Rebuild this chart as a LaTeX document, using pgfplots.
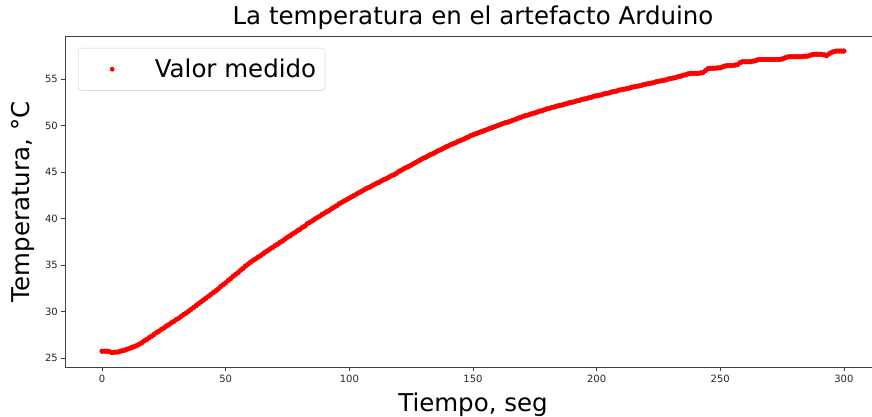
\documentclass[border=0pt]{standalone}
\usepackage{pgfplots}
\pgfplotsset{compat=1.18}
\usepackage{fontspec}
\setmainfont{DejaVu Sans}

\definecolor{spine}{gray}{0.25}
\definecolor{ticktext}{gray}{0.15}
\definecolor{legframe}{gray}{0.8}

\begin{document}
\begin{tikzpicture}
\begin{axis}[
  name=ax,
  scale only axis,
  width=816pt, height=331.7pt,
  xmin=-15, xmax=315,
  ymin=23.98, ymax=59.62,
  xtick={0,50,...,300},
  ytick={25,30,...,55},
  axis line style={spine, line width=0.8pt},
  tick align=outside,
  tick pos=left,
  major tick length=3.5pt,
  every tick/.style={spine, line width=0.8pt},
  /pgf/number format/assume math mode=true,
  tick label style={font=\fontsize{10}{12}\selectfont, text=ticktext},
  xticklabel style={inner sep=0pt, yshift=-3.5pt},
  yticklabel style={inner sep=0pt, xshift=-3.5pt},
  title={La temperatura en el artefacto Arduino},
  title style={font=\fontsize{24.5}{29}\selectfont, at={(axis description cs:0.5,1)}, anchor=base, yshift=5pt, inner sep=0pt},
  xlabel={Tiempo, seg},
  xlabel style={font=\fontsize{24.5}{29}\selectfont, at={(axis description cs:0.5,-0.133)}, anchor=base, inner sep=0pt},
  ylabel={Temperatura, °C},
  ylabel style={font=\fontsize{24.5}{29}\selectfont, at={(axis description cs:-0.043,0.5)}, anchor=base, inner sep=0pt},
  legend style={
    at={(axis description cs:0,1)}, anchor=north west,
    xshift=13pt, yshift=-12pt,
    draw=legframe, fill=white, fill opacity=0.8, text opacity=1,
    rounded corners=3pt,
    font=\fontsize{24.5}{29}\selectfont,
    inner xsep=9pt, inner ysep=11pt,
    nodes={inner sep=0pt},
  },
  legend cell align=left,
  legend image code/.code={
    \path[draw=none, fill=none] (0pt,-1pt) rectangle (67.6pt,1pt);
    \fill[red, draw=none, fill opacity=1] (25pt,0pt) circle (2.4pt);
  },
]
\addplot[only marks, mark=*, mark size=2.4pt, color=red, mark options={draw=red, fill=red}]
coordinates {
(0,25.75) (1,25.75) (2,25.75) (3,25.7) (4,25.6) (5,25.65) (6,25.65) (7,25.7) (8,25.8) (9,25.85)
(10,25.95) (11,26.05) (12,26.15) (13,26.25) (14,26.35) (15,26.5) (16,26.65) (17,26.85) (18,27.0) (19,27.2)
(20,27.35) (21,27.55) (22,27.75) (23,27.9) (24,28.1) (25,28.25) (26,28.45) (27,28.6) (28,28.8) (29,28.95)
(30,29.15) (31,29.3) (32,29.5) (33,29.7) (34,29.85) (35,30.05) (36,30.25) (37,30.45) (38,30.65) (39,30.85)
(40,31.05) (41,31.25) (42,31.45) (43,31.65) (44,31.85) (45,32.05) (46,32.25) (47,32.45) (48,32.7) (49,32.9)
(50,33.1) (51,33.35) (52,33.55) (53,33.8) (54,34.0) (55,34.2) (56,34.45) (57,34.65) (58,34.9) (59,35.1)
(60,35.3) (61,35.5) (62,35.65) (63,35.85) (64,36.0) (65,36.2) (66,36.4) (67,36.55) (68,36.75) (69,36.9)
(70,37.1) (71,37.25) (72,37.45) (73,37.6) (74,37.8) (75,38.0) (76,38.15) (77,38.35) (78,38.5) (79,38.7)
(80,38.85) (81,39.05) (82,39.2) (83,39.45) (84,39.6) (85,39.75) (86,39.95) (87,40.1) (88,40.25) (89,40.45)
(90,40.6) (91,40.75) (92,40.9) (93,41.1) (94,41.25) (95,41.4) (96,41.6) (97,41.75) (98,41.9) (99,42.05)
(100,42.2) (101,42.35) (102,42.5) (103,42.65) (104,42.8) (105,42.95) (106,43.1) (107,43.25) (108,43.35) (109,43.5)
(110,43.65) (111,43.8) (112,43.9) (113,44.05) (114,44.2) (115,44.3) (116,44.45) (117,44.6) (118,44.7) (119,44.85)
(120,45.05) (121,45.2) (122,45.35) (123,45.5) (124,45.6) (125,45.75) (126,45.9) (127,46.05) (128,46.2) (129,46.35)
(130,46.5) (131,46.6) (132,46.75) (133,46.9) (134,47.0) (135,47.15) (136,47.3) (137,47.4) (138,47.55) (139,47.7)
(140,47.8) (141,47.95) (142,48.05) (143,48.15) (144,48.3) (145,48.4) (146,48.5) (147,48.65) (148,48.75) (149,48.9)
(150,49.0) (151,49.1) (152,49.2) (153,49.3) (154,49.4) (155,49.5) (156,49.6) (157,49.7) (158,49.8) (159,49.9)
(160,50.0) (161,50.1) (162,50.2) (163,50.3) (164,50.35) (165,50.45) (166,50.55) (167,50.65) (168,50.75) (169,50.85)
(170,50.95) (171,51.05) (172,51.1) (173,51.2) (174,51.3) (175,51.35) (176,51.45) (177,51.55) (178,51.6) (179,51.7)
(180,51.8) (181,51.85) (182,51.95) (183,52.0) (184,52.1) (185,52.15) (186,52.2) (187,52.3) (188,52.35) (189,52.45)
(190,52.5) (191,52.55) (192,52.65) (193,52.7) (194,52.8) (195,52.85) (196,52.9) (197,53.0) (198,53.05) (199,53.15)
(200,53.2) (201,53.25) (202,53.3) (203,53.4) (204,53.45) (205,53.5) (206,53.6) (207,53.65) (208,53.7) (209,53.8)
(210,53.85) (211,53.9) (212,53.95) (213,54.0) (214,54.1) (215,54.15) (216,54.2) (217,54.25) (218,54.3) (219,54.4)
(220,54.45) (221,54.5) (222,54.55) (223,54.6) (224,54.7) (225,54.75) (226,54.8) (227,54.85) (228,54.9) (229,55.0)
(230,55.05) (231,55.1) (232,55.15) (233,55.25) (234,55.3) (235,55.4) (236,55.45) (237,55.55) (238,55.6) (239,55.6)
(240,55.6) (241,55.6) (242,55.65) (243,55.7) (244,55.9) (245,56.1) (246,56.15) (247,56.15) (248,56.15) (249,56.2)
(250,56.2) (251,56.3) (252,56.4) (253,56.45) (254,56.45) (255,56.45) (256,56.5) (257,56.55) (258,56.75) (259,56.85)
(260,56.85) (261,56.85) (262,56.85) (263,56.9) (264,56.95) (265,57.05) (266,57.1) (267,57.1) (268,57.1) (269,57.1)
(270,57.1) (271,57.1) (272,57.1) (273,57.1) (274,57.1) (275,57.15) (276,57.25) (277,57.35) (278,57.4) (279,57.4)
(280,57.4) (281,57.4) (282,57.4) (283,57.4) (284,57.45) (285,57.45) (286,57.5) (287,57.6) (288,57.65) (289,57.65)
(290,57.65) (291,57.65) (292,57.6) (293,57.5) (294,57.7) (295,57.85) (296,57.95) (297,58.0) (298,58.0) (299,58.0)
(300,58.0)
};
\addlegendentry{Valor medido}
\end{axis}
% page frame: the plot area reaches slightly past the right edge
\pgfresetboundingbox
\path[use as bounding box] ([shift={(-65pt,-49.3pt)}]ax.south west) rectangle ([shift={(807pt,367.7pt)}]ax.south west);
\end{tikzpicture}
\end{document}
